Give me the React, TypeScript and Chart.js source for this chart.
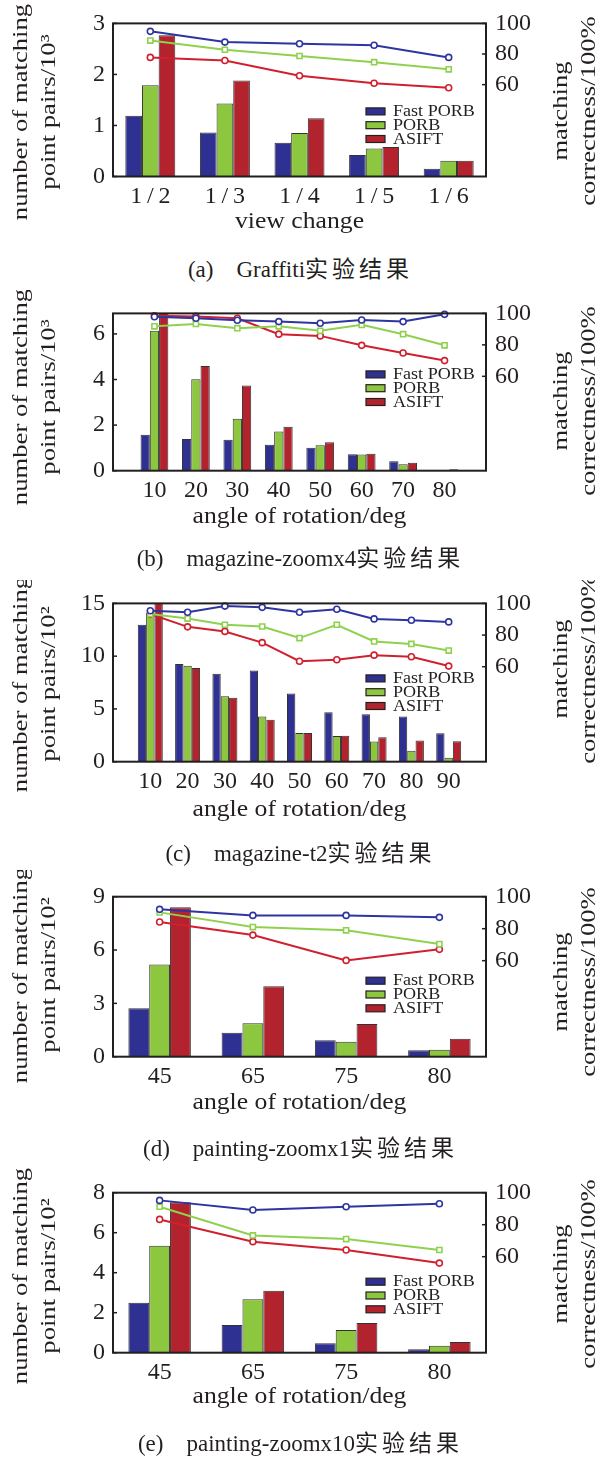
import React, { useEffect, useRef } from 'react';
import { Chart, registerables } from 'chart.js';

Chart.register(...registerables);

const SERIF = '"Liberation Serif", "Times New Roman", serif';
const CJK = '"Noto Sans CJK SC", sans-serif';
const INK = '#231f20';

const seriesNames = ['Fast PORB', 'PORB', 'ASIFT'];
const barColors = ['#2e3192', '#8dc63f', '#b2232e'];
const lineColors = ['#2e35a0', '#8fd14f', '#d0202f'];

const correctnessTicks = [60, 80, 100];

// (a) Graffiti
const graffitiViews = ['1\u2009/\u20092', '1\u2009/\u20093', '1\u2009/\u20094', '1\u2009/\u20095', '1\u2009/\u20096'];
const graffitiFastPorbPairs = [1.19, 0.86, 0.66, 0.42, 0.15];
const graffitiPorbPairs = [1.79, 1.43, 0.85, 0.55, 0.31];
const graffitiAsiftPairs = [2.77, 1.88, 1.14, 0.58, 0.31];
const graffitiFastPorbCorrect = [94.8, 87.8, 86.7, 85.7, 77.8];
const graffitiPorbCorrect = [88.8, 82.8, 78.7, 74.7, 70.0];
const graffitiAsiftCorrect = [77.8, 75.8, 65.8, 60.9, 58.0];
const graffitiPairTicks = [0, 1, 2, 3];

// (b) magazine-zoomx4
const zoomx4Angles = ['10', '20', '30', '40', '50', '60', '70', '80'];
const zoomx4FastPorbPairs = [1.58, 1.39, 1.36, 1.14, 1.01, 0.72, 0.41, 0];
const zoomx4PorbPairs = [6.14, 4.01, 2.28, 1.72, 1.12, 0.71, 0.28, 0.02];
const zoomx4AsiftPairs = [7.0, 4.59, 3.74, 1.93, 1.25, 0.74, 0.35, 0.06];
const zoomx4FastPorbCorrect = [97.9, 96.9, 95.6, 94.8, 93.7, 95.8, 94.8, 99.4];
const zoomx4PorbCorrect = [91.8, 93.3, 90.6, 91.8, 88.9, 92.7, 86.8, 79.7];
const zoomx4AsiftCorrect = [98.5, 98.1, 96.9, 86.8, 85.7, 79.7, 74.8, 70.0];
const zoomx4PairTicks = [0, 2, 4, 6];

// (c) magazine-t2
const t2Angles = ['10', '20', '30', '40', '50', '60', '70', '80', '90'];
const t2FastPorbPairs = [12.97, 9.25, 8.34, 8.63, 6.47, 4.69, 4.5, 4.28, 2.69];
const t2PorbPairs = [14.1, 9.09, 6.19, 4.28, 2.72, 2.44, 1.91, 1.03, 0.38];
const t2AsiftPairs = [15.5, 8.88, 6.06, 3.97, 2.72, 2.47, 2.31, 2.0, 1.94];
const t2FastPorbCorrect = [95.4, 94.4, 98.3, 97.5, 94.4, 96.3, 90.2, 89.4, 88.3];
const t2PorbCorrect = [93.3, 90.4, 86.5, 85.4, 78.1, 86.5, 76.0, 74.4, 70.2];
const t2AsiftCorrect = [93.3, 85.2, 82.3, 75.2, 63.5, 64.4, 67.3, 66.3, 60.4];
const t2PairTicks = [0, 5, 10, 15];

// (d) painting-zoomx1
const zoomx1Angles = ['45', '65', '75', '80'];
const zoomx1FastPorbPairs = [2.72, 1.35, 0.92, 0.36];
const zoomx1PorbPairs = [5.18, 1.88, 0.84, 0.39];
const zoomx1AsiftPairs = [8.4, 3.96, 1.84, 1.01];
const zoomx1FastPorbCorrect = [92.1, 88.3, 88.3, 87.1];
const zoomx1PorbCorrect = [90.2, 81.0, 79.0, 70.4];
const zoomx1AsiftCorrect = [84.2, 76.0, 60.2, 67.1];
const zoomx1PairTicks = [0, 3, 6, 9];

// (e) painting-zoomx10
const zoomx10Angles = ['45', '65', '75', '80'];
const zoomx10FastPorbPairs = [2.5, 1.38, 0.47, 0.17];
const zoomx10PorbPairs = [5.35, 2.67, 1.13, 0.35];
const zoomx10AsiftPairs = [7.52, 3.1, 1.48, 0.53];
const zoomx10FastPorbCorrect = [95.2, 89.2, 91.25, 93.1];
const zoomx10PorbCorrect = [91.25, 73.3, 71.0, 64.2];
const zoomx10AsiftCorrect = [83.3, 69.4, 64.2, 56.0];
const zoomx10PairTicks = [0, 2, 4, 6, 8];

type Panel = {
  labels: string[];
  padEnds: boolean;
  pairs: number[][];
  correct: number[][];
  yMax: number;
  yTicks: number[];
  yUnit: string;
  xTitle: string;
  capTag: string;
  capName: string;
  blockTop: number;
  plotTop: number;
  plotBottom: number;
  captionY: number;
  xTitleY: number;
  leftTitleY: number;
  rightTitleY: number;
  legendY: number;
};

const panels: Panel[] = [
  {
    labels: graffitiViews, padEnds: false,
    pairs: [graffitiFastPorbPairs, graffitiPorbPairs, graffitiAsiftPairs],
    correct: [graffitiFastPorbCorrect, graffitiPorbCorrect, graffitiAsiftCorrect],
    yMax: 3, yTicks: graffitiPairTicks, yUnit: 'point pairs/10\u00b3',
    xTitle: 'view change', capTag: '(a)', capName: 'Graffiti',
    blockTop: 0, plotTop: 16, plotBottom: 176.5, captionY: 267, xTitleY: 222,
    leftTitleY: 112, rightTitleY: 111, legendY: 88,
  },
  {
    labels: zoomx4Angles, padEnds: true,
    pairs: [zoomx4FastPorbPairs, zoomx4PorbPairs, zoomx4AsiftPairs],
    correct: [zoomx4FastPorbCorrect, zoomx4PorbCorrect, zoomx4AsiftCorrect],
    yMax: 6.9, yTicks: zoomx4PairTicks, yUnit: 'point pairs/10\u00b3',
    xTitle: 'angle of rotation/deg', capTag: '(b)', capName: 'magazine-zoomx4',
    blockTop: 290, plotTop: 311.7, plotBottom: 470.7, captionY: 556, xTitleY: 517,
    leftTitleY: 397, rightTitleY: 401, legendY: 61,
  },
  {
    labels: t2Angles, padEnds: true,
    pairs: [t2FastPorbPairs, t2PorbPairs, t2AsiftPairs],
    correct: [t2FastPorbCorrect, t2PorbCorrect, t2AsiftCorrect],
    yMax: 15, yTicks: t2PairTicks, yUnit: 'point pairs/10\u00b2',
    xTitle: 'angle of rotation/deg', capTag: '(c)', capName: 'magazine-t2',
    blockTop: 580, plotTop: 601.7, plotBottom: 761.7, captionY: 851, xTitleY: 810,
    leftTitleY: 684, rightTitleY: 669, legendY: 75,
  },
  {
    labels: zoomx1Angles, padEnds: false,
    pairs: [zoomx1FastPorbPairs, zoomx1PorbPairs, zoomx1AsiftPairs],
    correct: [zoomx1FastPorbCorrect, zoomx1PorbCorrect, zoomx1AsiftCorrect],
    yMax: 9, yTicks: zoomx1PairTicks, yUnit: 'point pairs/10\u00b2',
    xTitle: 'angle of rotation/deg', capTag: '(d)', capName: 'painting-zoomx1',
    blockTop: 870, plotTop: 896.7, plotBottom: 1056.7, captionY: 1146, xTitleY: 1103,
    leftTitleY: 975, rightTitleY: 982, legendY: 84,
  },
  {
    labels: zoomx10Angles, padEnds: false,
    pairs: [zoomx10FastPorbPairs, zoomx10PorbPairs, zoomx10AsiftPairs],
    correct: [zoomx10FastPorbCorrect, zoomx10PorbCorrect, zoomx10AsiftCorrect],
    yMax: 8, yTicks: zoomx10PairTicks, yUnit: 'point pairs/10\u00b2',
    xTitle: 'angle of rotation/deg', capTag: '(e)', capName: 'painting-zoomx10',
    blockTop: 1165, plotTop: 1192.7, plotBottom: 1352.7, captionY: 1441, xTitleY: 1396.7,
    leftTitleY: 1276, rightTitleY: 1274, legendY: 89,
  },
];

const CANVAS_W = 601;
const CANVAS_H = 250;
const PLOT_LEFT = 113;
const PLOT_RIGHT = 486;
const X_AXIS_H = 40;

function drawText(
  ctx: CanvasRenderingContext2D, text: string, x: number, y: number,
  rot: number, size: number, stretch: number, baseline: CanvasTextBaseline,
  align: CanvasTextAlign = 'center'
) {
  ctx.save();
  ctx.translate(x, y);
  ctx.rotate(rot);
  ctx.scale(stretch, 1);
  ctx.font = `${size}px ${SERIF}`;
  ctx.fillStyle = INK;
  ctx.textAlign = align;
  ctx.textBaseline = baseline;
  ctx.fillText(text, 0, 0);
  ctx.restore();
}

function makeDecor(p: Panel) {
  return {
    id: 'decor',
    afterDraw(chart: any) {
      const ctx: CanvasRenderingContext2D = chart.ctx;
      const a = chart.chartArea;
      const off = p.blockTop;
      ctx.save();
      // frame
      ctx.strokeStyle = INK;
      ctx.lineWidth = 2;
      ctx.strokeRect(a.left, a.top, a.right - a.left, a.bottom - a.top);
      // inward ticks
      ctx.lineWidth = 1.5;
      const yl = chart.scales.y;
      yl.ticks.forEach((t: any) => {
        const py = yl.getPixelForValue(t.value);
        ctx.beginPath(); ctx.moveTo(a.left, py); ctx.lineTo(a.left + 4, py); ctx.stroke();
      });
      const yr = chart.scales.y1;
      yr.ticks.forEach((t: any) => {
        const py = yr.getPixelForValue(t.value);
        ctx.beginPath(); ctx.moveTo(a.right, py); ctx.lineTo(a.right - 4, py); ctx.stroke();
      });
      // legend
      const lx = a.left + 253;
      for (let i = 0; i < 3; i++) {
        const cy = a.top + p.legendY + i * 13.8;
        ctx.fillStyle = barColors[i];
        ctx.fillRect(lx, cy - 3.5, 19, 7);
        ctx.strokeStyle = INK;
        ctx.lineWidth = 1.2;
        ctx.strokeRect(lx, cy - 3.5, 19, 7);
        drawText(ctx, seriesNames[i], lx + 27, cy + 0.5, 0, 16, 1.13, 'middle', 'left');
      }
      // axis titles
      const cx = (a.left + a.right) / 2;
      drawText(ctx, p.xTitle, cx, p.xTitleY - off, 0, 24, 1.07, 'middle');
      drawText(ctx, 'number of matching', 27, p.leftTitleY - off, -Math.PI / 2, 21, 1.27, 'alphabetic');
      drawText(ctx, p.yUnit, 55, p.leftTitleY - off, -Math.PI / 2, 21, 1.27, 'alphabetic');
      drawText(ctx, 'matching', 567, p.rightTitleY - off, -Math.PI / 2, 21, 1.27, 'alphabetic');
      drawText(ctx, 'correctness/100%', 595, p.rightTitleY - off, -Math.PI / 2, 21, 1.27, 'alphabetic');
      ctx.restore();
    },
  };
}

function PanelChart({ p }: { p: Panel }) {
  const ref = useRef<HTMLCanvasElement | null>(null);
  useEffect(() => {
    const canvas = ref.current;
    if (!canvas) return;
    const labels = p.padEnds ? ['', ...p.labels, ''] : p.labels;
    const pad = (arr: number[]) => (p.padEnds ? [null, ...arr, null] : arr);
    const datasets: any[] = [];
    for (let i = 0; i < 3; i++) {
      datasets.push({
        type: 'line',
        label: seriesNames[i] + ' correctness',
        data: pad(p.correct[i]),
        yAxisID: 'y1',
        order: 0,
        borderColor: lineColors[i],
        borderWidth: 2,
        pointStyle: i === 1 ? 'rect' : 'circle',
        pointRadius: i === 1 ? 3.6 : 3,
        pointBorderWidth: 1.6,
        pointBorderColor: lineColors[i],
        pointBackgroundColor: '#ffffff',
        fill: false,
        tension: 0,
        clip: false,
      });
    }
    for (let i = 0; i < 3; i++) {
      datasets.push({
        type: 'bar',
        label: seriesNames[i],
        data: pad(p.pairs[i]),
        yAxisID: 'y',
        order: 1,
        backgroundColor: barColors[i],
        borderColor: '#333333',
        borderWidth: 1,
        categoryPercentage: 0.67,
        barPercentage: 1,
      });
    }
    const tickFont = { family: SERIF, size: 24 };
    const chart = new Chart(canvas, {
      type: 'bar',
      data: { labels, datasets },
      options: {
        responsive: false,
        animation: false,
        devicePixelRatio: 1,
        layout: {
          padding: {
            top: p.plotTop - p.blockTop,
            bottom: CANVAS_H - (p.plotBottom - p.blockTop) - X_AXIS_H,
            left: 0,
            right: 0,
          },
        },
        plugins: { legend: { display: false }, tooltip: { enabled: false } },
        scales: {
          x: {
            type: 'category',
            offset: !p.padEnds,
            grid: { display: false, drawTicks: false },
            border: { display: false },
            ticks: { font: tickFont, color: INK, padding: 6, maxRotation: 0, autoSkip: false },
            afterFit: (s: any) => { s.height = X_AXIS_H; },
          },
          y: {
            position: 'left',
            min: 0,
            max: p.yMax,
            grid: { display: false, drawTicks: false },
            border: { display: false },
            ticks: { font: tickFont, color: INK, padding: 8 },
            afterBuildTicks: (s: any) => { s.ticks = p.yTicks.map((v) => ({ value: v })); },
            afterFit: (s: any) => { s.width = PLOT_LEFT; },
          },
          y1: {
            position: 'right',
            min: 0,
            max: 100,
            grid: { display: false, drawTicks: false },
            border: { display: false },
            ticks: { font: tickFont, color: INK, padding: 9 },
            afterBuildTicks: (s: any) => { s.ticks = correctnessTicks.map((v) => ({ value: v })); },
            afterFit: (s: any) => { s.width = CANVAS_W - PLOT_RIGHT; },
          },
        },
      } as any,
      plugins: [makeDecor(p)],
    });
    return () => chart.destroy();
  }, [p]);

  return (
    <>
      <canvas
        ref={ref}
        width={CANVAS_W}
        height={CANVAS_H}
        style={{ position: 'absolute', left: 0, top: p.blockTop, width: CANVAS_W, height: CANVAS_H }}
      />
      <div
        style={{
          position: 'absolute', left: 0, top: p.captionY - 15, width: CANVAS_W, height: 30,
          lineHeight: '30px', textAlign: 'center', fontFamily: SERIF, fontSize: 23, color: INK,
          whiteSpace: 'nowrap',
        }}
      >
        {p.capTag}
        {'\u2003'}
        {p.capName}
        <span style={{ fontFamily: CJK, fontSize: 23, letterSpacing: '4px' }}>实验结果</span>
      </div>
    </>
  );
}

export default function App() {
  return (
    <div style={{ position: 'absolute', left: 0, top: 0, width: 601, height: 1457, background: '#ffffff' }}>
      {panels.map((p, i) => (
        <PanelChart key={i} p={p} />
      ))}
    </div>
  );
}
